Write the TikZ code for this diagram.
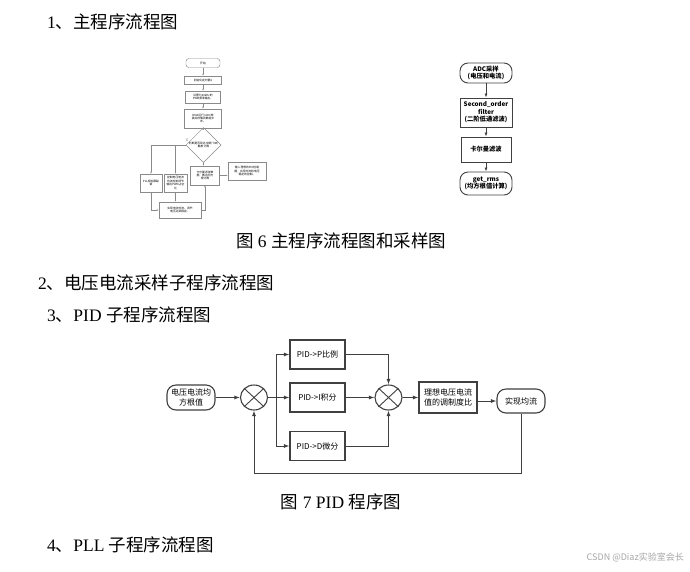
\documentclass[tikz,border=0pt]{standalone}
\usepackage{fontspec}
\setmainfont{Liberation Serif}
\newfontfamily\cjk{Noto Sans CJK SC}
\usetikzlibrary{shapes.geometric,arrows.meta}
\definecolor{ln}{HTML}{404040}
\definecolor{sl}{HTML}{8A8A8A}
\tikzset{
  head/.style={anchor=west, inner sep=0pt, font=\fontsize{17.5}{19}\selectfont},
  capt/.style={inner sep=0pt, font=\fontsize{17.5}{19}\selectfont},
  pbox/.style={draw=ln, line width=1.1pt, minimum width=55pt, minimum height=29pt, align=center, inner sep=1pt, font=\cjk\fontsize{8}{10.5}\selectfont},
  prnd/.style={pbox, rounded corners=9pt},
  pline/.style={draw=ln, line width=0.9pt},
  parr/.style={pline, -{Latex[length=5.5pt,width=4pt]}},
  cx/.style={draw=ln, line width=1.1pt, ellipse, minimum width=27pt, minimum height=25pt, inner sep=0pt},
  rbox/.style={draw=ln, line width=0.9pt, minimum width=52pt, align=center, inner sep=1pt, font=\cjk\bfseries\fontsize{6.3}{7.6}\selectfont},
  rrnd/.style={rbox, rounded corners=8pt},
  rarr/.style={draw=ln, line width=0.8pt, -{Latex[length=4pt,width=3pt]}},
  sbox/.style={draw=sl, line width=0.45pt, align=center, inner sep=0.5pt, font=\cjk\fontsize{2.8}{3.4}\selectfont},
  sarr/.style={draw=sl, line width=0.45pt, -{Latex[length=2pt,width=1.6pt]}},
  sline/.style={draw=sl, line width=0.45pt}
}
\begin{document}
\begin{tikzpicture}[x=1pt,y=-1pt]
\useasboundingbox[fill=white] (0,0) rectangle (690,571);

% headings
\node[head] (h1) at (47,22) {1{\cjk 、主程序流程图}};
\node[capt] (c6) at (341,241) {{\cjk 图} 6 {\cjk 主程序流程图和采样图}};
\node[head] (h2) at (38,283) {2{\cjk 、电压电流采样子程序流程图}};
\node[head] (h3) at (47,315) {3{\cjk 、}PID {\cjk 子程序流程图}};
\node[capt] (c7) at (341,502) {{\cjk 图} 7 PID {\cjk 程序图}};
\node[head] (h4) at (47,545) {4{\cjk 、}PLL {\cjk 子程序流程图}};
\node[anchor=east, inner sep=0pt, text=black!35, font=\cjk\fontsize{9}{10}\selectfont] (wm) at (684,557) {CSDN @Diaz实验室会长};

% small main flowchart
\node[sbox, rounded corners=3pt, minimum width=34pt, minimum height=9pt] (s1) at (203,63) {开始};
\node[sbox, minimum width=37pt, minimum height=8pt] (s2) at (203,80) {初始化定时器1};
\node[sbox, minimum width=35pt, minimum height=12pt] (s3) at (203,97) {设置为20kHz的\\PWM频率输出。};
\node[sbox, minimum width=37pt, minimum height=19pt] (s4) at (203,118.5) {DMA运行+ADC转\\换并存储到数组中\\去。};
\node[sbox, diamond, minimum width=35pt, minimum height=28pt, inner sep=0pt] (sd) at (203.5,145) {判断是否到达中断(TIM)\\触发计算};
\node[sbox, minimum width=22pt, minimum height=18pt] (pll) at (151,183) {PLL相位跟踪\\锁};
\node[sbox, minimum width=23pt, minimum height=18pt] (ctl) at (175.5,183) {控制电压电流\\均流控制调节\\输出PWM占空\\比};
\node[sbox, minimum width=29pt, minimum height=19pt] (kal) at (205,175.5) {卡尔曼滤波数\\据，做出均方\\根计算};
\node[sbox, minimum width=38pt, minimum height=18pt] (inp) at (247,171) {输入理想的PID控制\\器，实现均流和电压\\稳定的控制。};
\node[sbox, minimum width=42pt, minimum height=16pt] (bot) at (180,210) {实现电流均流、调节\\电压达到稳定。};
\node[inner sep=0pt, text=sl, font=\cjk\fontsize{3}{3.5}\selectfont] (no) at (187,140) {否};

\draw[sarr] (s1) -- (s2);
\draw[sarr] (s2) -- (s3);
\draw[sarr] (s3) -- (s4);
\draw[sarr] (s4) -- (sd);
\draw[sarr] (sd.west) -| (pll.north);
\draw[sarr] (ctl.north |- sd.west) -- (ctl.north);
\draw[sarr] (sd.south) -- (sd.south |- kal.north);
\draw[sarr] (pll.south) |- (bot.west);
\draw[sarr] (ctl.south) -- (ctl.south |- bot.north);
\draw[sarr] (bot.east) -| (kal.south);
\draw[sarr] (kal.east) -- (kal.east -| inp.west);

% sampling flowchart
\node[rrnd, minimum height=20pt] (adc) at (486,73) {ADC采样\\(电压和电流)};
\node[rbox, minimum height=29pt] (so) at (486,112.5) {Second\_order\\filter\\(二阶低通滤波)};
\node[rbox, minimum width=50pt, minimum height=25pt] (kf) at (486,149.5) {卡尔曼滤波};
\node[rrnd, minimum height=23pt] (gr) at (486,183.5) {get\_rms\\(均方根值计算)};
\draw[rarr] (adc) -- (so);
\draw[rarr] (so) -- (kf);
\draw[rarr] (kf) -- (gr);

% PID diagram
\node[prnd, minimum width=48pt, minimum height=25pt] (rms) at (191,397.5) {电压电流均\\方根值};
\node[cx] (c1) at (254,397.5) {};
\draw[pline] (c1.north west) -- (c1.south east) (c1.north east) -- (c1.south west);
\node[pbox] (P) at (317.5,354.5) {PID->P比例};
\node[pbox] (I) at (317.5,397.5) {PID->I积分};
\node[pbox] (D) at (317.5,446) {PID->D微分};
\node[cx] (c2) at (388.5,397.5) {};
\draw[pline] (c2.north west) -- (c2.south east) (c2.north east) -- (c2.south west);
\node[pbox, minimum width=58pt, minimum height=31pt] (id) at (448,397.5) {理想电压电流\\值的调制度比};
\node[prnd, minimum width=48pt, minimum height=24pt] (re) at (521,401) {实现均流};
\coordinate (sp) at (276,397.5);
\coordinate (fb) at (254,473);

\draw[parr] (rms) -- (c1);
\draw[pline] (c1.east) -- (sp);
\draw[parr] (sp) |- (P.west);
\draw[parr] (sp) -- (I.west);
\draw[parr] (sp) |- (D.west);
\draw[parr] (P.east) -| (c2.north);
\draw[parr] (I.east) -- (c2.west);
\draw[parr] (D.east) -| (c2.south);
\draw[parr] (c2.east) -- (id.west);
\draw[parr] (id.east |- re.west) -- (re.west);
\draw[parr] (re.south) |- (fb) -- (c1.south);
\end{tikzpicture}
\end{document}
